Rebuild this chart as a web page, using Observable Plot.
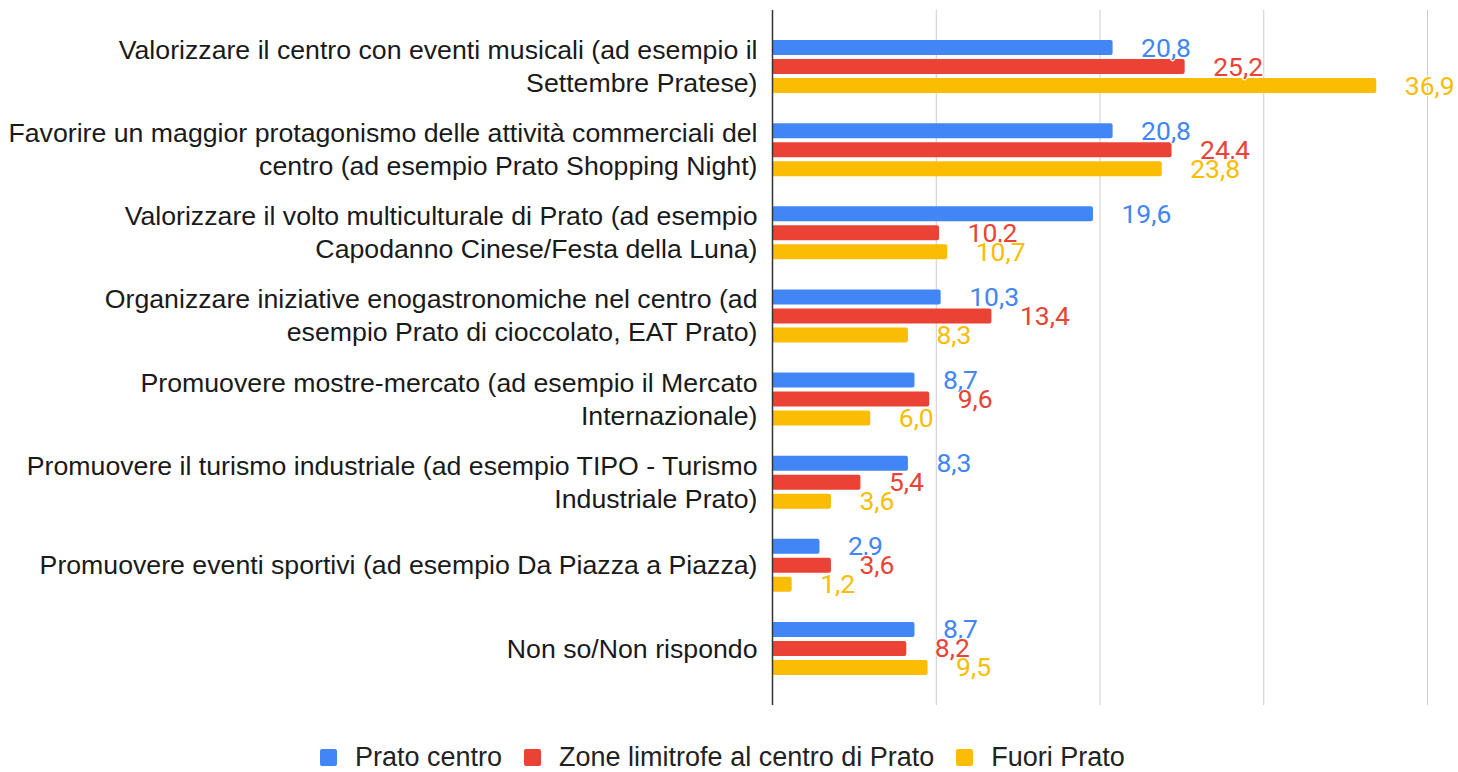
<!DOCTYPE html>
<html>
<head>
<meta charset="utf-8">
<script src="https://cdn.jsdelivr.net/npm/d3@7"></script>
<script src="https://cdn.jsdelivr.net/npm/@observablehq/plot@0.6"></script>
<style>
  html, body { margin: 0; padding: 0; background: #fff; }
  #wrap { position: relative; width: 1458px; height: 772px; }
  #legend { position: absolute; left: 320px; top: 743px; height: 28px; line-height: 28px; display: flex; align-items: center;
            font-family: "Liberation Sans", Arial, sans-serif; font-size: 27px; color: #222; white-space: nowrap; }
  #legend .item { display: flex; align-items: center; margin-right: 22px; }
  #legend .sw { width: 17px; height: 17px; border-radius: 2px; margin-right: 18px; }
</style>
</head>
<body>
<div id="wrap"><div id="chart"></div><div id="legend"></div></div>
<script>
const categories = [
  "Valorizzare il centro con eventi musicali (ad esempio il Settembre Pratese)",
  "Favorire un maggior protagonismo delle attività commerciali del centro (ad esempio Prato Shopping Night)",
  "Valorizzare il volto multiculturale di Prato (ad esempio Capodanno Cinese/Festa della Luna)",
  "Organizzare iniziative enogastronomiche nel centro (ad esempio Prato di cioccolato, EAT Prato)",
  "Promuovere mostre-mercato (ad esempio il Mercato Internazionale)",
  "Promuovere il turismo industriale (ad esempio TIPO - Turismo Industriale Prato)",
  "Promuovere eventi sportivi (ad esempio Da Piazza a Piazza)",
  "Non so/Non rispondo"
];
const labelLines = [
  ["Valorizzare il centro con eventi musicali (ad esempio il", "Settembre Pratese)"],
  ["Favorire un maggior protagonismo delle attività commerciali del", "centro (ad esempio Prato Shopping Night)"],
  ["Valorizzare il volto multiculturale di Prato (ad esempio", "Capodanno Cinese/Festa della Luna)"],
  ["Organizzare iniziative enogastronomiche nel centro (ad", "esempio Prato di cioccolato, EAT Prato)"],
  ["Promuovere mostre-mercato (ad esempio il Mercato", "Internazionale)"],
  ["Promuovere il turismo industriale (ad esempio TIPO - Turismo", "Industriale Prato)"],
  ["Promuovere eventi sportivi (ad esempio Da Piazza a Piazza)"],
  ["Non so/Non rispondo"]
];
const series = ["Prato centro", "Zone limitrofe al centro di Prato", "Fuori Prato"];
const pratoCentro   = [20.8, 20.8, 19.6, 10.3, 8.7, 8.3, 2.9, 8.7];
const zoneLimitrofe = [25.2, 24.4, 10.2, 13.4, 9.6, 5.4, 3.6, 8.2];
const fuoriPrato    = [36.9, 23.8, 10.7, 8.3, 6.0, 3.6, 1.2, 9.5];
const colors = ["#4285F4", "#EA4335", "#FBBC04"];
const gridTicks = [10, 20, 30, 40];

const seriesValues = [pratoCentro, zoneLimitrofe, fuoriPrato];
const rows = categories.flatMap((c, i) => series.map((s, j) => ({cat: c, series: s, value: seriesValues[j][i]})));
const fmt = v => v.toFixed(1).replace(".", ",");

const labelRows = categories.flatMap((c, i) => {
  const lines = labelLines[i];
  return lines.map((t, k) => ({cat: c, text: t, off: lines.length === 1 ? 0 : (k === 0 ? -16.5 : 16.5)}));
});

const step = 19, barH = 15;
const bandStep = 695 / (8 + 2 * 0.18);
const inset = (bandStep - barH) / 2;

const marks = [];
marks.push(Plot.ruleX(gridTicks, {stroke: "#cccccc", strokeWidth: 1}));
series.forEach((s, j) => {
  marks.push(Plot.barX(rows.filter(d => d.series === s), {
    x: "value", y: "cat", fill: "series", dy: (j - 1) * step,
    insetTop: inset, insetBottom: inset, rx: 2
  }));
});
marks.push(Plot.ruleX([0], {stroke: "#333333", strokeWidth: 1.5}));
series.forEach((s, j) => {
  marks.push(Plot.text(rows.filter(d => d.series === s), {
    x: "value", y: "cat", text: d => fmt(d.value), fill: "series",
    dx: 28, dy: (j - 1) * step, textAnchor: "start",
    fontSize: 26.5, fontFamily: "Roboto, sans-serif",
    stroke: "white", strokeWidth: 2, paintOrder: "stroke"
  }));
});
[-16.5, 0, 16.5].forEach(off => {
  marks.push(Plot.text(labelRows.filter(d => d.off === off), {
    y: "cat", text: "text", frameAnchor: "left", textAnchor: "end",
    dx: -15, dy: off, fontSize: 26.7, fill: "#1a1a1a",
    fontFamily: "'Liberation Sans', Arial, sans-serif"
  }));
});

const chart = Plot.plot({
  width: 1458, height: 720,
  marginLeft: 772, marginRight: 31, marginTop: 10, marginBottom: 15,
  x: {domain: [0, 40], axis: null},
  y: {domain: categories, axis: null, paddingInner: 0, paddingOuter: 0.18, round: false},
  color: {domain: series, range: colors},
  style: {background: "white", overflow: "visible"},
  marks
});
document.getElementById("chart").appendChild(chart);

const legend = document.getElementById("legend");
series.forEach((s, j) => {
  const item = document.createElement("div");
  item.className = "item";
  const sw = document.createElement("span");
  sw.className = "sw";
  sw.style.background = colors[j];
  const tx = document.createElement("span");
  tx.textContent = s;
  item.appendChild(sw); item.appendChild(tx);
  legend.appendChild(item);
});
</script>
</body>
</html>
